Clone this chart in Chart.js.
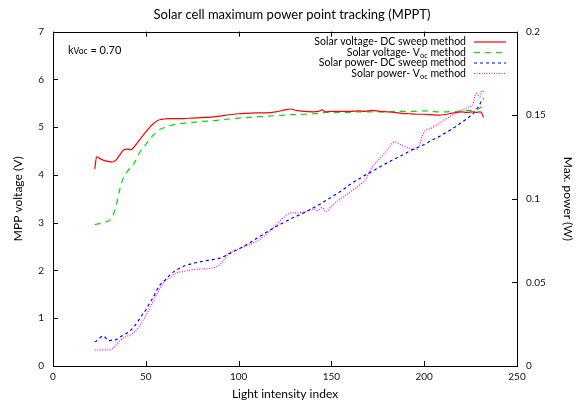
<!DOCTYPE html>
<html>
<head>
<meta charset="utf-8">
<script src="https://cdn.jsdelivr.net/npm/chart.js@4.4.1/dist/chart.umd.min.js"></script>
<style>
  html, body { margin: 0; padding: 0; background: #fff; }
  #wrap { width: 584px; height: 405px; }
</style>
</head>
<body>
<div id="wrap"><canvas id="mppt"></canvas></div>
<script>
const intensity = [22.5, 23.5, 25, 27, 30, 32, 34, 36, 38, 40, 42, 44, 46, 48, 50, 52, 54, 56, 58, 60,
  63, 66, 70, 75, 80, 85, 90, 95, 100, 105, 110, 115, 120, 125, 128, 131, 135, 140, 143, 145,
  147, 150, 155, 160, 165, 168, 172, 176, 180, 184, 188, 192, 196, 200, 204, 208, 212, 216, 220, 223,
  226, 228, 230, 231, 232];

const voltDcSweep = [4.12, 4.38, 4.35, 4.31, 4.28, 4.27, 4.31, 4.42, 4.52, 4.54, 4.53, 4.60, 4.70, 4.80, 4.90, 4.99, 5.07, 5.13, 5.16, 5.17,
  5.18, 5.18, 5.18, 5.19, 5.20, 5.21, 5.23, 5.26, 5.28, 5.29, 5.30, 5.30, 5.32, 5.36, 5.38, 5.35, 5.33, 5.32, 5.33, 5.36,
  5.32, 5.33, 5.33, 5.33, 5.34, 5.33, 5.35, 5.33, 5.32, 5.31, 5.29, 5.28, 5.27, 5.27, 5.26, 5.25, 5.27, 5.30, 5.32, 5.31,
  5.32, 5.31, 5.32, 5.30, 5.20];

const voltVoc = [2.96, 2.97, 2.98, 3.00, 3.04, 3.12, 3.35, 3.70, 3.95, 4.07, 4.16, 4.26, 4.42, 4.55, 4.64, 4.74, 4.83, 4.90, 4.96, 4.99,
  5.03, 5.06, 5.08, 5.10, 5.12, 5.13, 5.15, 5.17, 5.19, 5.20, 5.22, 5.23, 5.24, 5.25, 5.26, 5.26, 5.27, 5.28, 5.29, 5.30,
  5.31, 5.31, 5.31, 5.31, 5.32, 5.32, 5.32, 5.32, 5.32, 5.33, 5.33, 5.33, 5.33, 5.34, 5.33, 5.32, 5.32, 5.33, 5.34, 5.35,
  5.35, 5.36, 5.40, 5.43, 5.44];

const powerDcSweep = [0.0145, 0.0150, 0.0165, 0.0180, 0.0152, 0.0155, 0.0158, 0.0172, 0.0185, 0.0198, 0.0215, 0.0240, 0.0270, 0.0305, 0.0335, 0.0375, 0.0410, 0.0455, 0.0490, 0.0510,
  0.0545, 0.0570, 0.0595, 0.0612, 0.0625, 0.0635, 0.0645, 0.0672, 0.0700, 0.0730, 0.0765, 0.0800, 0.0833, 0.0862, 0.0880, 0.0895, 0.0915, 0.0944, 0.0962, 0.0975,
  0.0990, 0.1010, 0.1045, 0.1085, 0.1120, 0.1140, 0.1165, 0.1190, 0.1215, 0.1238, 0.1260, 0.1285, 0.1305, 0.1325, 0.1350, 0.1372, 0.1398, 0.1425, 0.1455, 0.1480,
  0.1505, 0.1533, 0.1565, 0.1590, 0.1600];

const powerVoc = [0.0096, 0.0097, 0.0097, 0.0096, 0.0097, 0.0105, 0.0125, 0.0150, 0.0168, 0.0178, 0.0188, 0.0205, 0.0230, 0.0265, 0.0300, 0.0345, 0.0385, 0.0430, 0.0470, 0.0505,
  0.0530, 0.0555, 0.0565, 0.0575, 0.0580, 0.0585, 0.0607, 0.0675, 0.0700, 0.0722, 0.0748, 0.0790, 0.0840, 0.0895, 0.0914, 0.0916, 0.0920, 0.0938, 0.0930, 0.0948,
  0.0922, 0.0955, 0.1000, 0.1040, 0.1080, 0.1110, 0.1190, 0.1240, 0.1290, 0.1340, 0.1320, 0.1303, 0.1295, 0.1400, 0.1423, 0.1450, 0.1480, 0.1505, 0.1525, 0.1545,
  0.1560, 0.1630, 0.1610, 0.1645, 0.1640];

const xTicks = [0, 50, 100, 150, 200, 250];
const voltTicks = [0, 1, 2, 3, 4, 5, 6, 7];
const powerTicks = [0, 0.05, 0.1, 0.15, 0.2];

const FONT = 'Lato';
Chart.defaults.font.family = FONT;
Chart.defaults.color = '#111';

function pairs(ys) {
  return intensity.map((x, i) => ({ x: x, y: ys[i] }));
}

// legend rows, text split into [text, isSubscript]
const legendRows = [
  { parts: [['Solar voltage- DC sweep method', false]], color: '#ff0000', dash: [] },
  { parts: [['Solar voltage- V', false], ['oc', true], [' method', false]], color: '#00dd00', dash: [6, 5] },
  { parts: [['Solar power- DC sweep method', false]], color: '#0000ff', dash: [3, 3] },
  { parts: [['Solar power- V', false], ['oc', true], [' method', false]], color: '#ff00ff', dash: [1, 1.5] },
];

const overlay = {
  id: 'overlay',
  afterDatasetsDraw(chart) {
    const { ctx, chartArea: a, scales } = chart;
    ctx.save();
    ctx.strokeStyle = '#000';
    ctx.lineWidth = 1;
    ctx.setLineDash([]);
    ctx.strokeRect(Math.round(a.left) + 0.5, Math.round(a.top) + 0.5,
      Math.round(a.right - a.left), Math.round(a.bottom - a.top));

    const tl = 5;
    ctx.beginPath();
    xTicks.forEach(v => {
      const px = Math.round(scales.x.getPixelForValue(v)) + 0.5;
      ctx.moveTo(px, a.bottom); ctx.lineTo(px, a.bottom - tl);
      ctx.moveTo(px, a.top); ctx.lineTo(px, a.top + tl);
    });
    voltTicks.forEach(v => {
      const py = Math.round(scales.yV.getPixelForValue(v)) + 0.5;
      ctx.moveTo(a.left, py); ctx.lineTo(a.left + tl, py);
    });
    powerTicks.forEach(v => {
      const py = Math.round(scales.yP.getPixelForValue(v)) + 0.5;
      ctx.moveTo(a.right, py); ctx.lineTo(a.right - tl, py);
    });
    ctx.stroke();

    // legend
    const big = '10.5px ' + FONT, small = '7.5px ' + FONT;
    const textRight = 466, lineX0 = 474, lineX1 = 506;
    ctx.textBaseline = 'middle';
    ctx.fillStyle = '#000';
    legendRows.forEach((row, i) => {
      const y = 42 + i * 10.5;
      let w = 0;
      row.parts.forEach(([t, sub]) => { ctx.font = sub ? small : big; w += ctx.measureText(t).width; });
      let x = textRight - w;
      row.parts.forEach(([t, sub]) => {
        ctx.font = sub ? small : big;
        ctx.fillText(t, x, sub ? y + 3 : y);
        x += ctx.measureText(t).width;
      });
      ctx.strokeStyle = row.color;
      ctx.lineWidth = 1.2;
      ctx.setLineDash(row.dash);
      ctx.beginPath();
      ctx.moveTo(lineX0, y); ctx.lineTo(lineX1, y);
      ctx.stroke();
    });

    // k_Voc annotation
    ctx.setLineDash([]);
    let x = 68;
    const ky = 50;
    ctx.textBaseline = 'alphabetic';
    [['k', '11px '], ['Voc', '8.5px '], [' = 0.70', '11px ']].forEach(([t, f]) => {
      ctx.font = f + FONT;
      ctx.fillText(t, x, ky + 4);
      x += ctx.measureText(t).width;
    });
    ctx.restore();
  }
};

const datasets = [
  { label: 'Solar voltage- DC sweep method', data: pairs(voltDcSweep), yAxisID: 'yV',
    borderColor: '#ff0000', borderWidth: 1.2 },
  { label: 'Solar voltage- Voc method', data: pairs(voltVoc), yAxisID: 'yV',
    borderColor: '#00dd00', borderWidth: 1.2, borderDash: [6, 5] },
  { label: 'Solar power- DC sweep method', data: pairs(powerDcSweep), yAxisID: 'yP',
    borderColor: '#0000ff', borderWidth: 1.2, borderDash: [3, 3] },
  { label: 'Solar power- Voc method', data: pairs(powerVoc), yAxisID: 'yP',
    borderColor: '#ff00ff', borderWidth: 1.2, borderDash: [1, 1.5] },
];

const noGrid = { display: false, drawTicks: false };

new Chart(document.getElementById('mppt'), {
  type: 'scatter',
  data: { datasets: datasets },
  options: {
    responsive: true,
    maintainAspectRatio: false,
    animation: false,
    showLine: true,
    elements: {
      point: { radius: 0, hoverRadius: 0 },
      line: { cubicInterpolationMode: 'monotone', fill: false },
    },
    layout: { padding: 0 },
    plugins: {
      legend: { display: false },
      tooltip: { enabled: false },
      title: {
        display: true,
        text: 'Solar cell maximum power point tracking (MPPT)',
        color: '#000',
        font: { size: 13, weight: 'normal' },
        padding: { top: 7, bottom: 9 },
      },
    },
    scales: {
      x: {
        type: 'linear', min: 0, max: 250,
        afterBuildTicks: s => { s.ticks = xTicks.map(v => ({ value: v })); },
        afterFit: s => { s.height = 39; },
        grid: noGrid,
        border: { display: false },
        ticks: { font: { size: 10 }, padding: 5, maxRotation: 0 },
        title: { display: true, text: 'Light intensity index', font: { size: 12 }, color: '#000', padding: { bottom: 4 } },
      },
      yV: {
        type: 'linear', position: 'left', min: 0, max: 7,
        afterBuildTicks: s => { s.ticks = voltTicks.map(v => ({ value: v })); },
        afterFit: s => { s.width = 53; },
        grid: noGrid,
        border: { display: false },
        ticks: { font: { size: 10 }, padding: 9 },
        title: { display: true, text: 'MPP voltage (V)', font: { size: 12 }, color: '#000', padding: { top: 11 } },
      },
      yP: {
        type: 'linear', position: 'right', min: 0, max: 0.2,
        afterBuildTicks: s => { s.ticks = powerTicks.map(v => ({ value: v })); },
        afterFit: s => { s.width = 67; },
        grid: noGrid,
        border: { display: false },
        ticks: { font: { size: 10 }, padding: 9, callback: v => String(+v.toFixed(2)) },
        title: { display: true, text: 'Max. power (W)', font: { size: 12 }, color: '#000', padding: { top: 9 } },
      },
    },
  },
  plugins: [overlay],
});
</script>
</body>
</html>
